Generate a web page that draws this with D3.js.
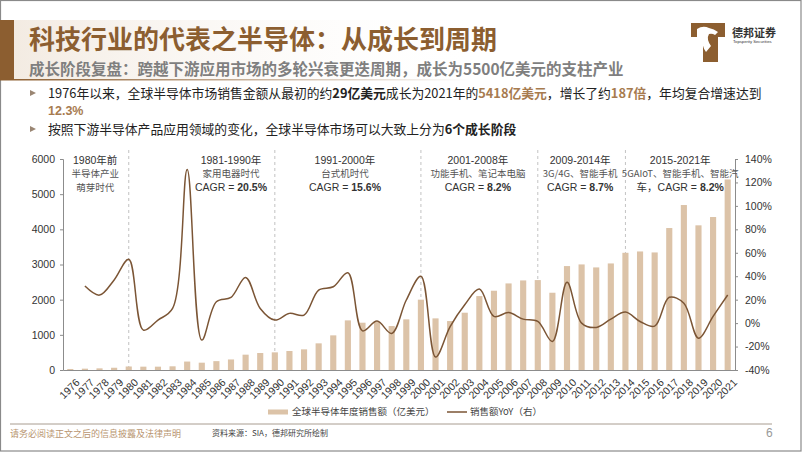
<!DOCTYPE html>
<html><head><meta charset="utf-8">
<script src="https://cdn.jsdelivr.net/npm/d3@7"></script>
<style>body{margin:0;background:#fff}svg{display:block}</style>
</head><body>
<svg id="c" width="802" height="452"></svg>
<script>
const years = ["1976","1977","1978","1979","1980","1981","1982","1983","1984","1985","1986","1987","1988","1989","1990","1991","1992","1993","1994","1995","1996","1997","1998","1999","2000","2001","2002","2003","2004","2005","2006","2007","2008","2009","2010","2011","2012","2013","2014","2015","2016","2017","2018","2019","2020","2021"];
const sales = [29,38,47,64,100,95,95,105,240,208, 252,300,436,483,502,540,587,758,985,1411, 1345,1375,1250,1440,2000,1468,1392,1629,2102,2254, 2462,2547,2557,2197,2955,3002,2917,3030,3333,3371, 3343,4037,4691,4114,4350,5418];
const yoy = [null,31.6,23.9,36.8,54.4,-6,2.6,12.5,131,-14.5, 18.2,21.9,39,12.5,2.6,8.3,6.8,28.2,31,43, -6.6,1.7,-8.8,19.7,40,-29,-3,15.7,29,5.7, 9,3.4,1.4,-15.7,34.9,0,-3.7,3.4,9.4,1.4, -2.6,22,17,-12.9,5.7,24];
const leftTicks = [0,1000,2000,3000,4000,5000,6000];
const rightTicks = [-40,-20,0,20,40,60,80,100,120,140];
const eraBreaks = ["1980","1990","2000","2008","2014"];
const eras = [
  {l1:"1980年前", l2:"半导体产业", l3:"萌芽时代", cagr:null},
  {l1:"1981-1990年", l2:"家用电器时代", l3:"CAGR = ", cagr:"20.5%"},
  {l1:"1991-2000年", l2:"台式机时代", l3:"CAGR = ", cagr:"15.6%"},
  {l1:"2001-2008年", l2:"功能手机、笔记本电脑", l3:"CAGR = ", cagr:"8.2%"},
  {l1:"2009-2014年", l2:"3G/4G、智能手机", l3:"CAGR = ", cagr:"8.7%"},
  {l1:"2015-2021年", l2:"5GAIoT、智能手机、智能汽", l3:"车，CAGR = ", cagr:"8.2%"}
];
const legendLabels = ["全球半导体年度销售额（亿美元）","销售额YoY（右）"];

const svg = d3.select("#c");
const CJK = "'Noto Sans CJK SC','Noto Sans',sans-serif";
const SANS = "'Liberation Sans',Arial,'Noto Sans CJK SC',sans-serif";
const BROWN = "#8c5e30", BAR = "#dcc3a8", LINE = "#7b5535", GOLD = "#a77b4f";

// page border
svg.append("rect").attr("x",0.5).attr("y",0.5).attr("width",800.5).attr("height",450.5).attr("fill","none").attr("stroke","#8a8a8a").attr("stroke-width",1.2);

// header
const defs = svg.append("defs");
const g1 = defs.append("linearGradient").attr("id","hb").attr("x1","0").attr("x2","1");
g1.append("stop").attr("offset","0").attr("stop-color","#f3ebe2");
g1.append("stop").attr("offset","1").attr("stop-color","#ffffff").attr("stop-opacity",0);
const g2 = defs.append("linearGradient").attr("id","hl").attr("x1","0").attr("x2","1");
g2.append("stop").attr("offset","0").attr("stop-color","#8c5e30");
g2.append("stop").attr("offset","1").attr("stop-color","#8c5e30").attr("stop-opacity",0);
svg.append("rect").attr("x",14).attr("y",20).attr("width",480).attr("height",60).attr("fill","url(#hb)");
svg.append("rect").attr("x",0).attr("y",20).attr("width",14).attr("height",60).attr("fill","#8c5e30");
svg.append("rect").attr("x",0).attr("y",79).attr("width",470).attr("height",1.5).attr("fill","url(#hl)");
svg.append("text").attr("x",29).attr("y",49).attr("font-family",CJK).attr("font-weight","bold").attr("font-size",26).attr("fill",BROWN).text("科技行业的代表之半导体：从成长到周期");
svg.append("text").attr("x",29).attr("y",75).attr("font-family",CJK).attr("font-weight","bold").attr("font-size",15.5).attr("fill","#7f7f7f").text("成长阶段复盘：跨越下游应用市场的多轮兴衰更迭周期，成长为5500亿美元的支柱产业");

// logo
const lg = svg.append("g");
lg.append("path").attr("d","M691,23 H725 V37 H718 V62 H703 V37 H691 Z").attr("fill","#8c5e30");
lg.append("path").attr("d","M697,29 q6,-4 12,-1 q5,1 9,4 l-3,3 q-3,-2 -6,-1 q-3,5 2,12 l-5,6 q-5,-7 -3,-14 q-4,1 -6,-1 Z").attr("fill","#fff");
lg.append("text").attr("x",732).attr("y",37).attr("font-family",CJK).attr("font-weight","bold").attr("font-size",11).attr("fill","#333").text("德邦证券");
lg.append("text").attr("x",733).attr("y",43).attr("font-family",SANS).attr("font-size",4.2).attr("fill","#333").text("Topsperity Securities");

// bullets
function bullet(y){ svg.append("path").attr("d",`M30,${y-4} L36,${y-1} L30,${y+2} Z`).attr("fill","#9a8673"); }
bullet(94); bullet(130);
const t1 = svg.append("text").attr("x",48).attr("y",98).attr("font-family",CJK).attr("font-size",12.8).attr("fill","#222");
const segs1 = [["1976年以来，全球半导体市场销售金额从最初的约",null],["29亿美元","b"],["成长为2021年的",null],["5418亿美元","g"],["，增长了约",null],["187倍","g"],["，年均复合增速达到",null]];
segs1.forEach(s=>{ const ts=t1.append("tspan").text(s[0]); if(s[1]==="b") ts.attr("font-weight","bold"); if(s[1]==="g") ts.attr("fill",GOLD).attr("font-weight","bold"); });
svg.append("text").attr("x",48).attr("y",115).attr("font-family",SANS).attr("font-size",12.5).attr("font-weight","bold").attr("fill",GOLD).text("12.3%");
const t2 = svg.append("text").attr("x",48).attr("y",134).attr("font-family",CJK).attr("font-size",12.8).attr("fill","#222");
t2.append("tspan").text("按照下游半导体产品应用领域的变化，全球半导体市场可以大致上分为");
t2.append("tspan").attr("font-weight","bold").text("6个成长阶段");

// chart
const L = 63, R = 735, T = 159, B = 370;
const x = d3.scaleBand().domain(years).range([L,R]).paddingInner(0.58).paddingOuter(0.29);
const yL = d3.scaleLinear().domain([0,6000]).range([B,T]);
const yR = d3.scaleLinear().domain([-40,140]).range([B,T]);
const cx = i => x(years[i]) + x.bandwidth()/2;

// era dashed lines
svg.append("g").selectAll("line").data(eraBreaks).join("line")
  .attr("x1",d=>x(d)+x.bandwidth()/2).attr("x2",d=>x(d)+x.bandwidth()/2)
  .attr("y1",150).attr("y2",B).attr("stroke","#b3b3b3").attr("stroke-width",0.8).attr("stroke-dasharray","3,3");

// bars
svg.append("g").selectAll("rect").data(sales).join("rect")
  .attr("x",(d,i)=>x(years[i])).attr("width",x.bandwidth())
  .attr("y",d=>yL(d)).attr("height",d=>B-yL(d)).attr("fill",BAR);

// line
const line = d3.line().defined(d=>d[1]!==null).x(d=>cx(d[0])).y(d=>yR(d[1])).curve(d3.curveCatmullRom.alpha(0.5));
svg.append("path").datum(yoy.map((v,i)=>[i,v])).attr("d",line).attr("fill","none").attr("stroke",LINE).attr("stroke-width",1.5);

// axes
const axL = svg.append("g").attr("transform",`translate(${L},0)`).call(d3.axisLeft(yL).tickValues(leftTicks).tickSize(3).tickPadding(5).tickFormat(d3.format("d")));
const axR = svg.append("g").attr("transform",`translate(${R},0)`).call(d3.axisRight(yR).tickValues(rightTicks).tickSize(3).tickPadding(7).tickFormat(d=>d+"%"));
const axB = svg.append("g").attr("transform",`translate(0,${B})`).call(d3.axisBottom(x).tickSize(0).tickPadding(4));
[axL,axR,axB].forEach(a=>{
  a.selectAll("path.domain").attr("stroke","#8c8c8c");
  a.selectAll(".tick line").attr("stroke","#8c8c8c");
  a.selectAll("text").attr("font-family",SANS).attr("font-size",10.5).attr("fill","#333");
});
axB.selectAll("text").attr("font-size",10.5).attr("text-anchor","end").attr("dy","0.3em")
  .attr("transform","translate(5,8) rotate(-45)");

// era annotations
const eraPos = [1.7, 11, 18.8, 27.9, 34.9, 41.75];
eras.forEach((e,k)=>{
  const px = L + x.step()*x.paddingOuter() + x.step()*eraPos[k] + x.bandwidth()/2;
  const g = svg.append("g").attr("text-anchor","middle").attr("fill","#333");
  g.append("text").attr("x",px).attr("y",164).attr("font-family",SANS).attr("font-size",10.5).text(e.l1);
  g.append("text").attr("x",px).attr("y",177).attr("font-family",CJK).attr("font-size",9.5).attr("fill","#555").text(e.l2);
  const t = g.append("text").attr("x",px).attr("y",191).attr("font-family",SANS).attr("font-size",10.5);
  if(e.cagr){ t.append("tspan").text(e.l3); t.append("tspan").attr("font-weight","bold").text(e.cagr); }
  else { t.attr("font-family",CJK).attr("font-size",9.5).attr("fill","#555").text(e.l3); }
});

// legend
svg.append("rect").attr("x",268).attr("y",409.5).attr("width",20).attr("height",5).attr("fill",BAR);
svg.append("text").attr("x",292).attr("y",415).attr("font-family",CJK).attr("font-size",9.5).attr("fill","#444").text(legendLabels[0]);
svg.append("line").attr("x1",447).attr("x2",467).attr("y1",412).attr("y2",412).attr("stroke",LINE).attr("stroke-width",1.5);
svg.append("text").attr("x",470).attr("y",415).attr("font-family",CJK).attr("font-size",9.5).attr("fill","#444").text(legendLabels[1]);

// footer
svg.append("line").attr("x1",10).attr("x2",772).attr("y1",424).attr("y2",424).attr("stroke","#a89c90").attr("stroke-width",1);
svg.append("text").attr("x",10).attr("y",437).attr("font-family",CJK).attr("font-size",9).attr("fill","#b89570").text("请务必阅读正文之后的信息披露及法律声明");
svg.append("text").attr("x",212).attr("y",436).attr("font-family",CJK).attr("font-size",8).attr("fill","#444").text("资料来源：SIA，德邦研究所绘制");
svg.append("text").attr("x",766).attr("y",437).attr("font-family",SANS).attr("font-size",12).attr("fill","#999").text("6");
</script>
</body></html>
